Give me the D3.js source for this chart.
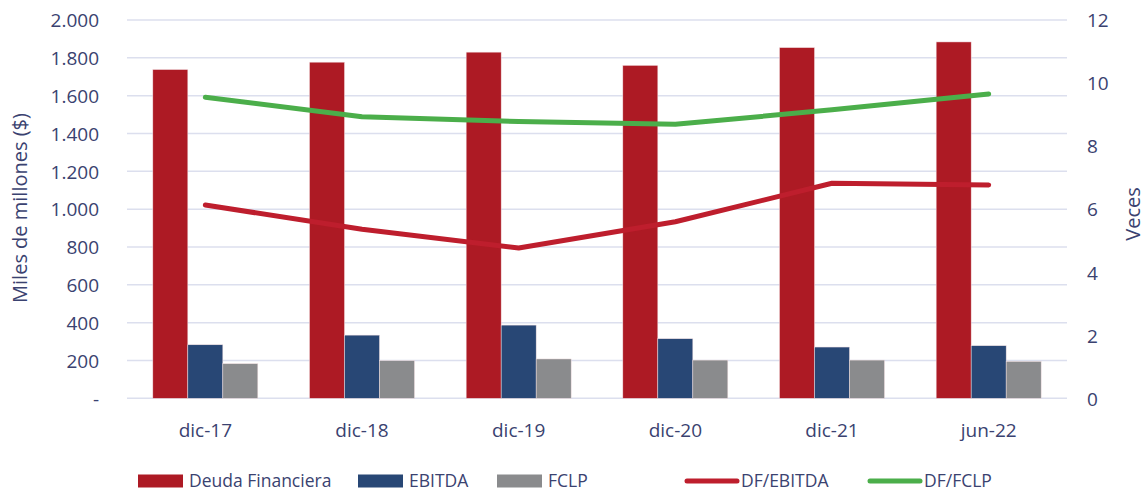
<!DOCTYPE html>
<html>
<head>
<meta charset="utf-8">
<script src="https://cdn.jsdelivr.net/npm/d3@7"></script>
<style>
  body { margin: 0; background: #fff; }
  svg text { font-family: "Open Sans", "Noto Sans", sans-serif; fill: #3a4270; }
</style>
</head>
<body>
<svg id="chart" width="1148" height="493"></svg>
<script>
"use strict";

// values
var categories = ["dic-17", "dic-18", "dic-19", "dic-20", "dic-21", "jun-22"];
var deuda = [1738, 1777, 1830, 1760, 1854, 1884];
var ebitda = [283, 334, 387, 315, 271, 278];
var fclp = [183, 199, 208, 202, 202, 195];
var dfEbitda = [6.13, 5.36, 4.77, 5.6, 6.82, 6.77];
var dfFclp = [9.55, 8.93, 8.78, 8.69, 9.15, 9.65];
var leftTicks = [0, 200, 400, 600, 800, 1000, 1200, 1400, 1600, 1800, 2000];
var rightTicks = [0, 2, 4, 6, 8, 10, 12];

(function () {
  var barSeries = [
    { name: "Deuda Financiera", values: deuda, color: "#ad1a24" },
    { name: "EBITDA", values: ebitda, color: "#284775" },
    { name: "FCLP", values: fclp, color: "#8a8b8d" }
  ];
  var lineSeries = [
    { name: "DF/EBITDA", values: dfEbitda, color: "#be1e2d" },
    { name: "DF/FCLP", values: dfFclp, color: "#4bae4a" }
  ];

  var svg = d3.select("#chart");
  var plotLeft = 127, plotRight = 1067, plotTop = 20, plotBottom = 398.3;
  var tickSize = "19px";

  var x = d3.scaleBand().domain(categories).range([plotLeft, plotRight]);
  var groupW = 105;
  var xs = d3.scaleBand().domain(barSeries.map(function (s) { return s.name; }))
    .range([0, groupW]);
  var y = d3.scaleLinear().domain([0, 2000]).range([plotBottom, plotTop]);
  var y2 = d3.scaleLinear().domain([0, 12]).range([plotBottom, plotTop]);

  var fmt = function (d) {
    return d === 0 ? "-" : d3.format(",")(d).replace(/,/g, ".");
  };

  // gridlines
  svg.append("g")
    .selectAll("line")
    .data(leftTicks)
    .enter().append("line")
      .attr("x1", plotLeft).attr("x2", plotRight)
      .attr("y1", function (d) { return y(d); })
      .attr("y2", function (d) { return y(d); })
      .attr("stroke", "#dcdfee")
      .attr("stroke-width", 1.5);

  // left axis
  var yAxis = svg.append("g")
    .attr("transform", "translate(" + (plotLeft - 28) + ",0)")
    .call(d3.axisLeft(y).tickValues(leftTicks).tickFormat(fmt).tickSize(0).tickPadding(0));
  yAxis.select(".domain").remove();
  yAxis.selectAll("text").style("font-size", tickSize).attr("dy", "0.36em");

  // right axis
  var y2Axis = svg.append("g")
    .attr("transform", "translate(" + (plotRight + 20) + ",0)")
    .call(d3.axisRight(y2).tickValues(rightTicks).tickSize(0).tickPadding(0));
  y2Axis.select(".domain").remove();
  y2Axis.selectAll("text").style("font-size", tickSize).attr("dy", "0.36em");

  // x axis labels
  var xAxis = svg.append("g")
    .attr("transform", "translate(0,437)")
    .call(d3.axisBottom(x).tickSize(0).tickPadding(0));
  xAxis.select(".domain").remove();
  xAxis.selectAll("text").style("font-size", tickSize).attr("y", 0).attr("dy", 0);

  // axis titles
  svg.append("text")
    .attr("transform", "translate(27,208) rotate(-90)")
    .attr("text-anchor", "middle")
    .style("font-size", "20px")
    .text("Miles de millones ($)");
  svg.append("text")
    .attr("transform", "translate(1140,214) rotate(-90)")
    .attr("text-anchor", "middle")
    .style("font-size", "20px")
    .text("Veces");

  // bars
  barSeries.forEach(function (s) {
    svg.append("g")
      .selectAll("rect")
      .data(s.values)
      .enter().append("rect")
        .attr("x", function (d, i) {
          return x(categories[i]) + (x.bandwidth() - groupW) / 2 + xs(s.name);
        })
        .attr("y", function (d) { return y(d); })
        .attr("width", xs.bandwidth())
        .attr("height", function (d) { return plotBottom - y(d); })
        .attr("fill", s.color)
        .attr("stroke", "#f2dfe2")
        .attr("stroke-width", 0.5);
  });

  // lines
  var line = d3.line()
    .x(function (d, i) { return x(categories[i]) + x.bandwidth() / 2; })
    .y(function (d) { return y2(d); });

  lineSeries.forEach(function (s) {
    svg.append("path")
      .datum(s.values)
      .attr("d", line)
      .attr("fill", "none")
      .attr("stroke", s.color)
      .attr("stroke-width", 5)
      .attr("stroke-linecap", "round")
      .attr("stroke-linejoin", "round");
  });

  // legend
  var legendY = 481;
  var legendItems = [
    { s: barSeries[0], x: 138, type: "bar" },
    { s: barSeries[1], x: 358, type: "bar" },
    { s: barSeries[2], x: 497, type: "bar" },
    { s: lineSeries[0], x: 686, type: "line" },
    { s: lineSeries[1], x: 869, type: "line" }
  ];
  var lg = svg.append("g").selectAll("g")
    .data(legendItems)
    .enter().append("g")
      .attr("transform", function (d) { return "translate(" + d.x + "," + legendY + ")"; });

  lg.filter(function (d) { return d.type === "bar"; })
    .append("rect")
      .attr("x", 0).attr("y", -6.5)
      .attr("width", 45).attr("height", 13)
      .attr("fill", function (d) { return d.s.color; });
  lg.filter(function (d) { return d.type === "line"; })
    .append("line")
      .attr("x1", 1).attr("x2", 51)
      .attr("stroke", function (d) { return d.s.color; })
      .attr("stroke-width", 5)
      .attr("stroke-linecap", "round");
  lg.append("text")
    .attr("x", function (d) { return d.type === "bar" ? 51 : 55; })
    .attr("dy", "0.36em")
    .style("font-size", "17.5px")
    .text(function (d) { return d.s.name; });
})();
</script>
</body>
</html>
